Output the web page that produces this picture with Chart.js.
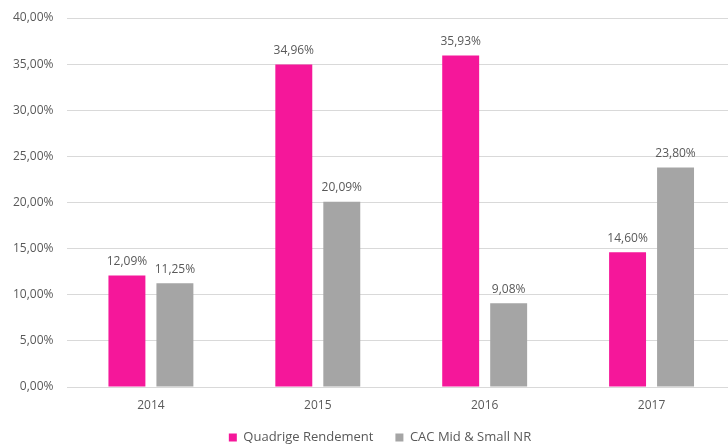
<!DOCTYPE html>
<html>
<head>
<meta charset="utf-8">
<script src="https://cdn.jsdelivr.net/npm/chart.js@4"></script>
<style>
html,body{margin:0;padding:0;background:#fff;overflow:hidden;}
#wrap{width:748px;height:446px;position:relative;}
</style>
</head>
<body>
<div id="wrap"><canvas id="c"></canvas></div>
<script>
const categories = ['2014', '2015', '2016', '2017'];
const quadrige = [12.09, 34.96, 35.93, 14.60];
const cacMidSmall = [11.25, 20.09, 9.08, 23.80];
const seriesNames = ['Quadrige Rendement', 'CAC Mid & Small NR'];
const yTicks = [0, 5, 10, 15, 20, 25, 30, 35, 40];

const fmt = v => v.toFixed(2).replace('.', ',') + '%';
const FONT = '"Open Sans", "Liberation Sans", sans-serif';
const TXT = '#595959';

const labelPlugin = {
  id: 'valueLabels',
  afterLayout(chart) {
    // nudge the bottom legend to the right, as in the original layout
    if (chart.legend) { chart.legend.left += 6; chart.legend.right += 6; }
  },
  afterDatasetsDraw(chart) {
    const ctx = chart.ctx;
    ctx.save();
    ctx.font = '12px ' + FONT;
    ctx.fillStyle = TXT;
    ctx.textAlign = 'center';
    ctx.textBaseline = 'bottom';
    chart.data.datasets.forEach((ds, i) => {
      chart.getDatasetMeta(i).data.forEach((bar, j) => {
        ctx.fillText(fmt(ds.data[j]), bar.x, bar.y - 8);
      });
    });
    ctx.restore();
  }
};

new Chart(document.getElementById('c'), {
  type: 'bar',
  data: {
    labels: categories,
    datasets: [
      { label: seriesNames[0], data: quadrige, backgroundColor: '#F5179A', borderWidth: 0 },
      { label: seriesNames[1], data: cacMidSmall, backgroundColor: '#A5A5A5', borderWidth: 0 }
    ]
  },
  options: {
    responsive: true,
    maintainAspectRatio: false,
    animation: false,
    devicePixelRatio: 1,
    layout: { padding: { top: 18, right: 13, left: 13, bottom: -8 } },
    datasets: { bar: { categoryPercentage: 0.575, barPercentage: 0.77 } },
    scales: {
      x: {
        grid: { display: false },
        border: { display: true, color: '#D9D9D9', width: 1 },
        ticks: { color: TXT, font: { family: FONT, size: 12 }, padding: 3 },
        afterFit: axis => { axis.height = 22; }
      },
      y: {
        min: 0, max: 40,
        afterBuildTicks: axis => { axis.ticks = yTicks.map(v => ({ value: v })); },
        grid: { color: '#D9D9D9', drawTicks: true, tickLength: 14, tickColor: 'rgba(0,0,0,0)' },
        border: { display: false },
        ticks: { color: TXT, font: { family: FONT, size: 12 }, padding: 0, callback: v => fmt(v) }
      }
    },
    plugins: {
      legend: {
        position: 'bottom',
        labels: {
          color: TXT, font: { family: FONT, size: 13 },
          boxWidth: 8, boxHeight: 8, padding: 22
        }
      },
      tooltip: { enabled: false }
    }
  },
  plugins: [labelPlugin]
});
</script>
</body>
</html>
